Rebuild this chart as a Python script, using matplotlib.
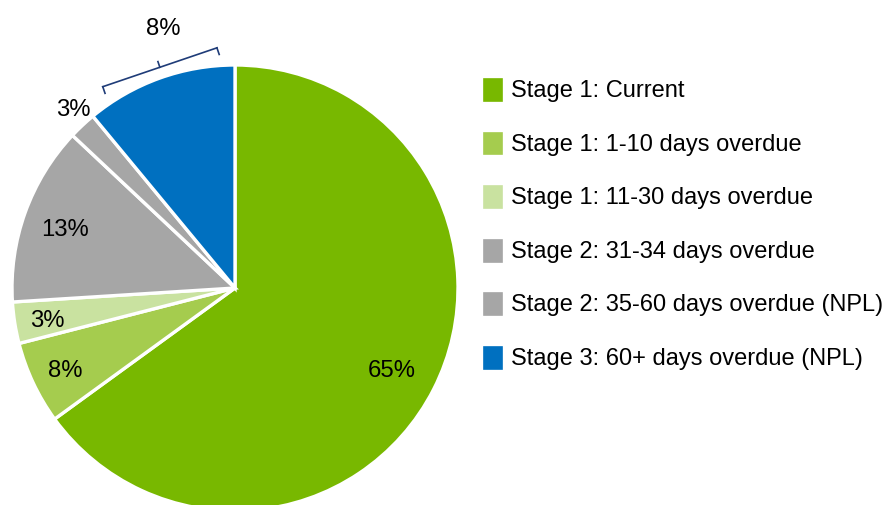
import matplotlib.pyplot as plt
import numpy as np

plt.rcParams['font.family'] = ['Liberation Sans', 'DejaVu Sans']

categories = ['Stage 1: Current', 'Stage 1: 1-10 days overdue', 'Stage 1: 11-30 days overdue',
              'Stage 2: 31-34 days overdue', 'Stage 2: 35-60 days overdue (NPL)',
              'Stage 3: 60+ days overdue (NPL)']
values = [65, 6, 3, 13, 2, 11]
pct_labels = ['65%', '8%', '3%', '13%', '3%', '8%']
colors = ['#78b800', '#a5cc4e', '#c9e2a0', '#a6a6a6', '#a6a6a6', '#0070c0']
label_r = [0.79, 0.84, 0.85, 0.81, 1.09, 1.22]
label_da = [0, 0, 0, 0, -1.5, -4.5]

W, H = 888, 505
fig = plt.figure(figsize=(W / 100, H / 100), dpi=100)
ax = fig.add_axes([0, 0, 1, 1])

cx, cy, R = 235, H - 288, 223
wedges, _ = ax.pie(values, colors=colors, startangle=90, counterclock=False,
                   center=(cx, cy), radius=R,
                   wedgeprops=dict(edgecolor='white', linewidth=2.4))

for w, lab, r, da in zip(wedges, pct_labels, label_r, label_da):
    mid = np.deg2rad((w.theta1 + w.theta2) / 2 + da)
    ax.text(cx + r * R * np.cos(mid), cy + r * R * np.sin(mid) - 3, lab,
            ha='center', va='center', fontsize=17.2, color='black')

# bracket over the blue slice
blue = wedges[-1]
amid = np.deg2rad((blue.theta1 + blue.theta2) / 2 - 1)
span = np.deg2rad(14.5)
d = 1.08 * R
n = np.array([np.cos(amid), np.sin(amid)])
t = np.array([-np.sin(amid), np.cos(amid)])
pm = np.array([cx, cy]) + n * d * np.cos(span)
half = d * np.sin(span)
e1, e2 = pm - t * half, pm + t * half
bc = '#1f3c78'
ax.plot([e1[0], e2[0]], [e1[1], e2[1]], color=bc, lw=1.2)
for e in (e1, e2):
    ax.plot([e[0], e[0] - n[0] * 7], [e[1], e[1] - n[1] * 7], color=bc, lw=1.2)
ax.plot([pm[0], pm[0] + n[0] * 6], [pm[1], pm[1] + n[1] * 6], color=bc, lw=1.2)

ax.set_xlim(0, W)
ax.set_ylim(0, H)
ax.axis('off')

fig.legend(wedges, categories, loc='upper left', bbox_to_anchor=(481 / W, 1 - 76 / H),
           frameon=False, fontsize=17.0, borderpad=0, borderaxespad=0,
           handlelength=0.98, handleheight=1.38, handletextpad=0.27,
           labelspacing=1.125)

fig.savefig('out.png', dpi=100)
